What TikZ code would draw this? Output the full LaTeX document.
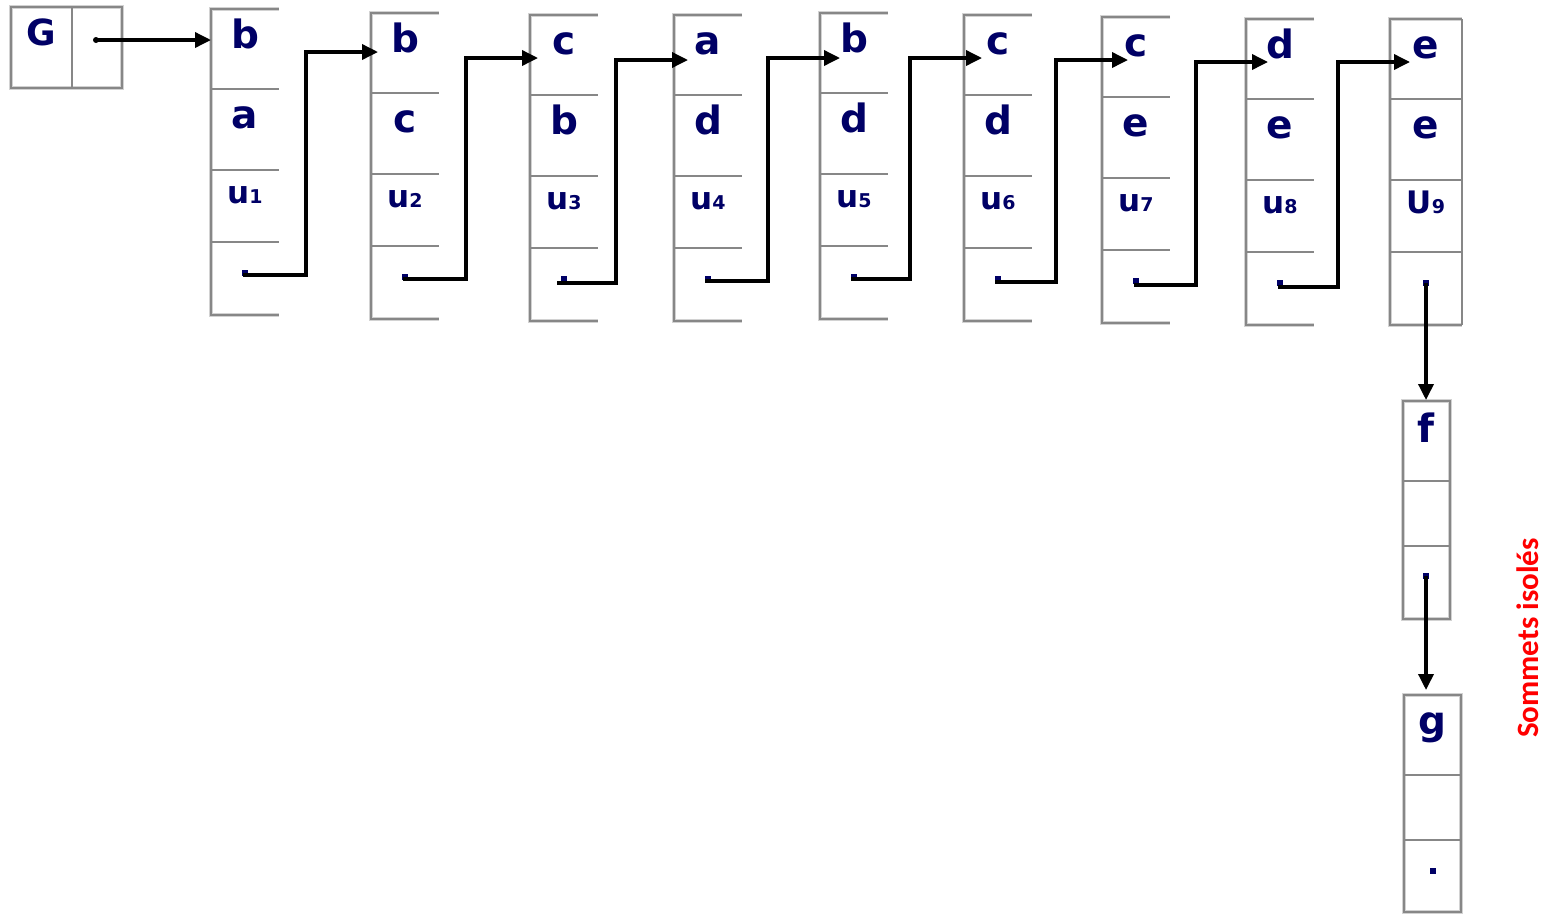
\documentclass[tikz,border=0pt]{standalone}
\usepackage{fontspec}
\setmainfont{DejaVu Sans}
\newfontfamily\calib{Carlito}
\usetikzlibrary{arrows.meta,calc}
\definecolor{navy}{RGB}{0,0,102}
\definecolor{boxgray}{RGB}{135,135,135}
\definecolor{shadowgray}{RGB}{210,210,210}
\newcommand\ulab[2]{#1{\fontsize{19}{19}\selectfont\bfseries #2}}
\newcommand\listcol[7]{%
  % #1 id, #2 x, #3 ytop, #4 width, #5 letter1, #6 letter2, #7 third label
  \draw[boxshadow] ({#2+#4},#3) -- (#2,#3) -- (#2,#3+306) -- ({#2+#4},#3+306);
  \draw[boxline] ({#2+#4},#3) -- (#2,#3) -- (#2,#3+306) -- ({#2+#4},#3+306);
  \foreach \d in {80,161,233} \draw[boxline] (#2,#3+\d) -- ++(#4,0);
  \node[lbl] (#1a) at ({#2+#4/2},{#3+39}) {#5};
  \node[lbl] (#1b) at ({#2+#4/2},{#3+119}) {#6};
  \node[ulbl] (#1u) at ({#2+#4/2},{#3+194}) {#7};
  \node[dotn] (#1d) at ({#2+#4/2},{#3+264}) {};
}
\begin{document}
\begin{tikzpicture}[x=1pt,y=-1pt,
  boxline/.style={draw=boxgray,line width=1.8pt},
  boxshadow/.style={draw=shadowgray,line width=4.5pt},
  lbl/.style={font=\fontsize{39}{41}\selectfont\bfseries,text=navy,anchor=base,inner sep=0pt},
  ulbl/.style={font=\fontsize{31}{33}\selectfont\bfseries,text=navy,anchor=base,inner sep=0pt},
  dotn/.style={fill=navy,rectangle,minimum size=6pt,inner sep=0pt},
  gdot/.style={fill=black,circle,minimum size=6pt,inner sep=0pt},
  ptr/.style={draw=black,line width=3.5pt,-{Triangle[length=16pt,width=15pt]}}]
\useasboundingbox (0,0) rectangle (1546,914);
\fill[white] (0,0) rectangle (1546,914);

% G header box
\draw[boxshadow] (11,7) rectangle (122,88);
\draw[boxline] (11,7) rectangle (122,88);
\draw[boxline] (72,7) -- (72,88);
\node[lbl,font=\fontsize{36}{38}\selectfont\bfseries] (G) at (41,45) {G};
\node[gdot] (gd) at (96,40) {};

% columns
\listcol{c1}{211}{9}{68}{b}{a}{\ulab{u}{1}}
\listcol{c2}{371}{13}{68}{b}{c}{\ulab{u}{2}}
\listcol{c3}{530}{15}{68}{c}{b}{\ulab{u}{3}}
\listcol{c4}{674}{15}{68}{a}{d}{\ulab{u}{4}}
\listcol{c5}{820}{13}{68}{b}{d}{\ulab{u}{5}}
\listcol{c6}{964}{15}{68}{c}{d}{\ulab{u}{6}}
\listcol{c7}{1102}{17}{68}{c}{e}{\ulab{u}{7}}
\listcol{c8}{1246}{19}{68}{d}{e}{\ulab{u}{8}}
\listcol{c9}{1390}{19}{72}{e}{e}{\ulab{U}{9}}
\draw[boxline] (1462,19) -- (1462,325);

% f column
\draw[boxshadow] (1403,401) rectangle (1450,619);
\draw[boxline] (1403,401) rectangle (1450,619);
\draw[boxline] (1403,481) -- (1450,481);
\draw[boxline] (1403,546) -- (1450,546);
\node[lbl] (fa) at (1426,442) {f};
\node[dotn] (fd) at (1426,576) {};

% g column
\draw[boxshadow] (1404,695) rectangle (1461,912);
\draw[boxline] (1404,695) rectangle (1461,912);
\draw[boxline] (1404,775) -- (1461,775);
\draw[boxline] (1404,840) -- (1461,840);
\node[lbl] (ga) at (1432,734) {g};
\node[dotn] (gdn) at (1433,871) {};

% arrow targets and bends
\coordinate (in1) at (211,40);
\coordinate (k1) at (306,52);  \coordinate (in2) at (378,52);
\coordinate (k2) at (466,58);  \coordinate (in3) at (538,58);
\coordinate (k3) at (616,60);  \coordinate (in4) at (688,60);
\coordinate (k4) at (768,58);  \coordinate (in5) at (840,58);
\coordinate (k5) at (910,58);  \coordinate (in6) at (982,58);
\coordinate (k6) at (1056,60); \coordinate (in7) at (1128,60);
\coordinate (k7) at (1196,62); \coordinate (in8) at (1268,62);
\coordinate (k8) at (1338,62); \coordinate (in9) at (1410,62);
\coordinate (inf) at (1426,400);
\coordinate (ing) at (1426,690);

% connectors
\draw[ptr] (gd.center) -- (in1);
\draw[ptr] ($(c1d.center)+(-2,2)$) -| (k1) -- (in2);
\draw[ptr] ($(c2d.center)+(-2,2)$) -| (k2) -- (in3);
\draw[ptr] ($(c3d.center)+(-7,4)$) -| (k3) -- (in4);
\draw[ptr] ($(c4d.center)+(-3,2)$) -| (k4) -- (in5);
\draw[ptr] ($(c5d.center)+(-3,2)$) -| (k5) -- (in6);
\draw[ptr] ($(c6d.center)+(-3,3)$) -| (k6) -- (in7);
\draw[ptr] ($(c7d.center)+(-2,4)$) -| (k7) -- (in8);
\draw[ptr] ($(c8d.center)+(-2,4)$) -| (k8) -- (in9);
\draw[ptr] (c9d.center) -- (inf);
\draw[ptr] (fd.center) -- (ing);

% label
\node[font=\calib\fontsize{31}{33}\selectfont\bfseries,text=red,rotate=90,inner sep=0pt] (iso) at (1528,638) {Sommets isolés};
\end{tikzpicture}
\end{document}
